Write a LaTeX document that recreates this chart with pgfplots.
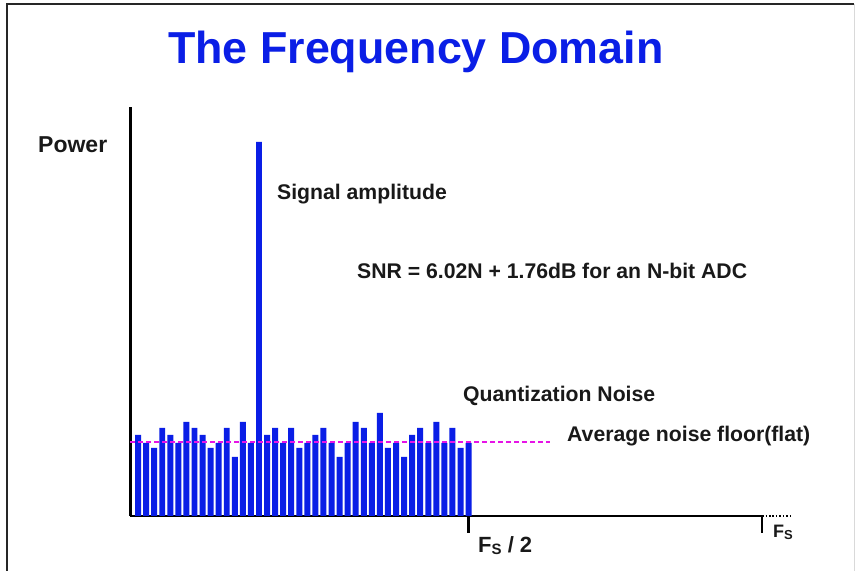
\documentclass[border=0pt]{standalone}
\usepackage{pgfplots}
\pgfplotsset{compat=1.18}
\usepackage{fontspec}
\setmainfont{Liberation Sans}
\definecolor{barblue}{RGB}{10,30,230}
\definecolor{noisemag}{RGB}{230,20,230}
\definecolor{txt}{RGB}{25,25,25}
\begin{document}
\begin{tikzpicture}[x=1bp,y=1bp]
\path[use as bounding box] (0,0) rectangle (855,571);
\fill[white] (0,0) rectangle (855,571);
\draw[line width=2bp, black!85] (7,0) -- (7,567) -- (854,567);
\draw[line width=1bp, black!15] (854,567) -- (854,0);
\begin{axis}[
  at={(130bp,55bp)}, anchor=south west,
  scale only axis, width=632bp, height=409bp,
  xmin=0, xmax=78.4, ymin=0, ymax=409,
  axis x line*=bottom, axis y line*=left,
  x axis line style={-, line width=2.5bp},
  y axis line style={-, line width=3bp},
  ytick=\empty, xtick={42,78.4}, xticklabels={,,},
  major tick length=17bp, tick align=outside,
  tick style={line width=2.2bp, black},
  clip=false,
]
\addplot[ybar, bar width=0.74, fill=barblue, draw=none] coordinates {
(1,81) (2,73) (3,68) (4,88) (5,81) (6,73) (7,94) (8,88) (9,81) (10,68)
(11,73) (12,88) (13,59) (14,94) (15,73) (16,374) (17,81) (18,88) (19,73) (20,88)
(21,68) (22,73) (23,81) (24,88) (25,73) (26,59) (27,73) (28,94) (29,88) (30,73)
(31,103) (32,68) (33,73) (34,59) (35,81) (36,88) (37,73) (38,94) (39,73) (40,88)
(41,68) (42,73)};
\addplot[noisemag, line width=1.6bp, dash pattern=on 5bp off 3bp] coordinates {(0,74) (52.1,74)};
\draw[line width=1.5bp, dotted] (axis cs:78.4,0) -- (axis cs:81.9,0);
\end{axis}
\begin{scope}[every node/.style={anchor=base west, inner sep=0pt, text=txt}]
\node[text=barblue, font=\fontsize{44.8bp}{50bp}\selectfont\bfseries] at (168,507) {The Frequency Domain};
\node[font=\fontsize{23bp}{26bp}\selectfont\bfseries] at (38,418) {Power};
\node[font=\fontsize{21.2bp}{25bp}\selectfont\bfseries] at (277,371) {Signal amplitude};
\node[font=\fontsize{21.2bp}{25bp}\selectfont\bfseries] at (357,292) {SNR = 6.02N + 1.76dB for an N-bit ADC};
\node[font=\fontsize{21.2bp}{25bp}\selectfont\bfseries] at (463,169.3) {Quantization Noise};
\node[font=\fontsize{21.2bp}{25bp}\selectfont\bfseries] at (567,129.3) {Average noise floor(flat)};
\node[font=\fontsize{22bp}{25bp}\selectfont\bfseries] at (478,18) {F\raisebox{-2bp}{\fontsize{15bp}{15bp}\selectfont S} / 2};
\node[font=\fontsize{18bp}{20bp}\selectfont\bfseries] at (773,33) {F\raisebox{-2bp}{\fontsize{13bp}{13bp}\selectfont S}};
\end{scope}
\end{tikzpicture}
\end{document}
